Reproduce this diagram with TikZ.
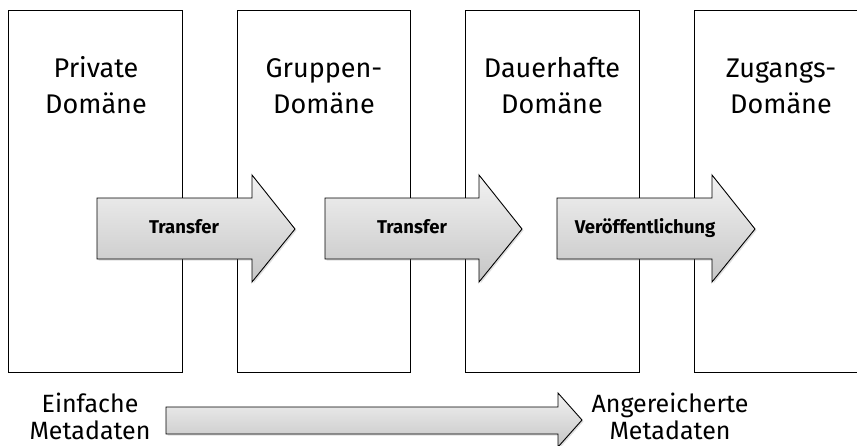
\documentclass[tikz,border=0pt]{standalone}
\usepackage{fontspec}
\setmainfont{Fira Sans}
\usetikzlibrary{shadows}

\tikzset{
  domaene/.style={draw, line width=1pt},
  pfeil/.style={draw=black, line width=0.9pt, top color=gray!10, bottom color=gray!45,
    drop shadow={opacity=0.25, shadow xshift=1.5pt, shadow yshift=-1.5pt}},
  titel/.style={align=center, anchor=base, inner sep=0pt,
    font=\fontsize{27}{35.5}\selectfont},
  pfeiltext/.style={anchor=base, inner sep=0pt, font=\fontsize{18.5}{22}\selectfont\bfseries},
  meta/.style={align=center, anchor=base, inner sep=0pt,
    font=\fontsize{25}{26.5}\selectfont}
}

\begin{document}
\begin{tikzpicture}[x=1pt, y=-1pt]
\useasboundingbox (0,0) rectangle (857,445);
\clip (0,0) rectangle (857,445);

% Domaenen
\draw [domaene] (8,10) rectangle (182,372);
\draw [domaene] (237,10) rectangle (410,372);
\draw [domaene] (465,10) rectangle (639,372);
\draw [domaene] (694,10) rectangle (868,372);

% base = Grundlinie der letzten Zeile
\node [titel] (private) at (96,113) {Private\\Domäne};
\node [titel] (gruppe) at (324,113) {Gruppen-\\Domäne};
\node [titel] (dauer) at (552,113) {Dauerhafte\\Domäne};
\node [titel] (zugang) at (781,113) {Zugangs-\\Domäne};

% Pfeile zwischen den Domaenen
\draw [pfeil] (97,198) -- (252,198) -- (252,175) -- (295,229)
  -- (252,282) -- (252,259) -- (97,259) -- cycle;
\node [pfeiltext] (transfer1) at (184,233) {Transfer};

\draw [pfeil] (325,198) -- (479,198) -- (479,175) -- (522,229)
  -- (479,282) -- (479,259) -- (325,259) -- cycle;
\node [pfeiltext] (transfer2) at (412,233) {Transfer};

\draw [pfeil] (557,198) -- (712,198) -- (712,175) -- (755,229)
  -- (712,282) -- (712,259) -- (557,259) -- cycle;
\node [pfeiltext] (publik) at (645,233) {Veröffentlichung};

% Metadaten
\draw [pfeil] (166,407) -- (558,407) -- (558,393) -- (582,420)
  -- (558,447) -- (558,434) -- (166,434) -- cycle;
\node [meta] (einfach) at (90,439) {Einfache\\Metadaten};
\node [meta] (reich) at (670,439) {Angereicherte\\Metadaten};
\end{tikzpicture}
\end{document}
